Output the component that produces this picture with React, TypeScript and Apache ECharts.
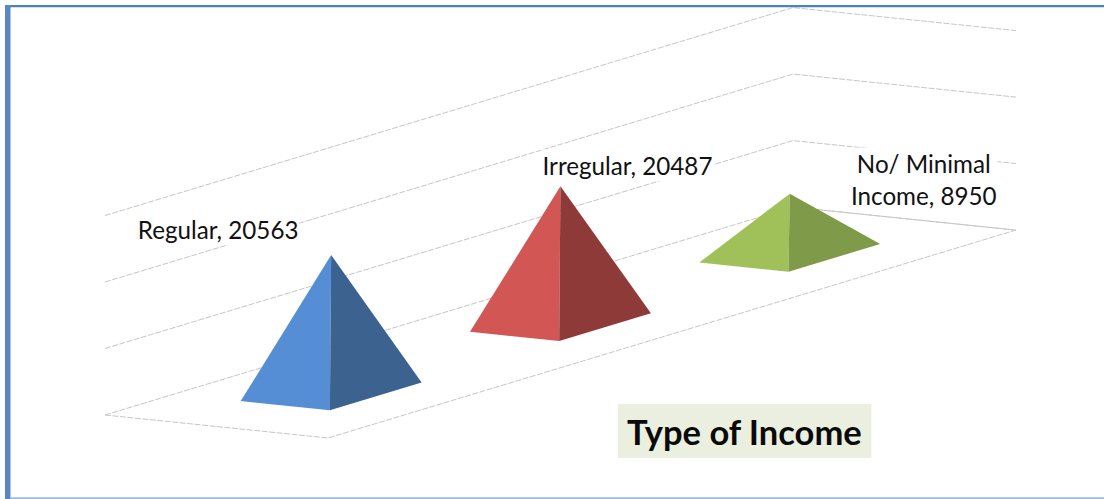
import React, { useEffect, useRef } from "react";
import * as echarts from "echarts";

const categories = ["Regular", "Irregular", "No/ Minimal\nIncome"];
const incomeValues = [20563, 20487, 8950];
const wallTicks = [0, 10000, 20000, 30000];
const titleText = "Type of Income";

const faceLight = ["#558ed5", "#d25654", "#a0c15a"];
const faceDark = ["#3c6290", "#8e3a39", "#7f9a48"];
const labelOffsets = [[-113, -26], [67, -21], [134, -14]];

// oblique floor projection expressed in axis units
const DEPTH_X = 0.9725;
const RISE_PER_CATEGORY = 10421;
const RISE_PER_DEPTH = 3459;
const project = (u: number, v: number, h: number): [number, number] => [
  u - v * DEPTH_X,
  h + u * RISE_PER_CATEGORY + v * RISE_PER_DEPTH,
];
const BASE = 0.2;
const N = categories.length;
const gridLineStyle = { color: "#c6c6c6", width: 1, type: [6, 1.5] };

export default function App() {
  const ref = useRef<HTMLDivElement>(null);
  useEffect(() => {
    document.body.style.margin = "0";
    document.body.style.overflow = "hidden";
    const chart = echarts.init(ref.current!, undefined, { renderer: "svg" });
    const wallLines = wallTicks.map((t) => ({
      type: "line" as const,
      silent: true,
      showSymbol: false,
      symbol: "none",
      z: 1,
      lineStyle: gridLineStyle,
      data: [project(0, 1, t), project(N, 1, t), project(N, 0, t)],
    }));
    const floorEdge = {
      type: "line" as const,
      silent: true,
      showSymbol: false,
      symbol: "none",
      z: 1,
      lineStyle: gridLineStyle,
      data: [project(0, 1, 0), project(0, 0, 0), project(N, 0, 0), project(N, 1, 0)],
    };
    chart.setOption({
      animation: false,
      backgroundColor: "#ffffff",
      title: {
        text: titleText,
        left: 618,
        top: 404,
        padding: [9, 9, 9, 9],
        backgroundColor: "#ebefdf",
        textStyle: { fontFamily: "Lato", fontWeight: "bold", fontSize: 34.5, lineHeight: 36, color: "#0a0a0a" },
      },
      grid: { left: 98.7, top: 5.75, width: 917.2, height: 465.5, containLabel: false },
      xAxis: { type: "value", min: -1, max: 3, show: false },
      yAxis: { type: "value", min: -5000, max: 65000, show: false },
      graphic: [
        { type: "rect", silent: true, z: 100, shape: { x: 5, y: 5, width: 1099, height: 2.3 }, style: { fill: "#4f81bd" } },
        { type: "rect", silent: true, z: 100, shape: { x: 5, y: 5, width: 5.5, height: 494 }, style: { fill: "#5b87c0" } },
        { type: "rect", silent: true, z: 100, shape: { x: 10, y: 497.3, width: 1094, height: 1.7 }, style: { fill: "#9dbbe0" } },
      ],
      series: [
        ...wallLines,
        floorEdge,
        {
          type: "custom",
          z: 3,
          clip: false,
          silent: true,
          data: incomeValues.map((v, i) => [i, v]),
          renderItem: (_: unknown, api: any) => {
            const i = api.value(0);
            const h = api.value(1);
            const c = i + 0.5;
            const left = api.coord(project(c - BASE, 0.5 + BASE, 0));
            const front = api.coord(project(c - BASE, 0.5 - BASE, 0));
            const right = api.coord(project(c + BASE, 0.5 - BASE, 0));
            const apex = api.coord(project(c, 0.5, h));
            return {
              type: "group",
              children: [
                { type: "polygon", shape: { points: [left, front, apex] }, style: { fill: faceLight[i] } },
                { type: "polygon", shape: { points: [front, right, apex] }, style: { fill: faceDark[i] } },
              ],
            };
          },
        },
        {
          type: "custom",
          z: 2,
          clip: false,
          silent: true,
          data: incomeValues.map((v, i) => [i, v]),
          renderItem: (_: unknown, api: any) => {
            const i = api.value(0);
            const h = api.value(1);
            const apex = api.coord(project(i + 0.5, 0.5, h));
            return {
              type: "text",
              x: apex[0] + labelOffsets[i][0],
              y: apex[1] + labelOffsets[i][1],
              style: {
                text: `${categories[i]}, ${h}`,
                fontFamily: "Lato",
                fontSize: 24.2,
                lineHeight: 32,
                fill: "#111111",
                align: "center",
                verticalAlign: "middle",
                backgroundColor: "#ffffff",
                padding: [0, 1],
              },
            };
          },
        },
      ],
    });
    return () => chart.dispose();
  }, []);
  return <div ref={ref} style={{ width: 1104, height: 499 }} />;
}
